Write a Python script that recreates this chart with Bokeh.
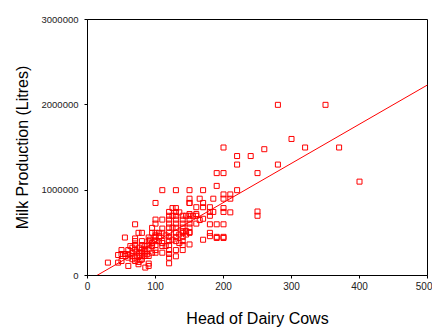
from bokeh.plotting import figure
from bokeh.models import FixedTicker, NumeralTickFormatter, ColumnDataSource
from bokeh.embed import file_html
from bokeh.resources import INLINE

# Head of dairy cows per farm
cows = [280, 350, 300, 320, 370, 200, 220, 240, 260, 220, 280, 400, 190, 200, 250,
        190, 220, 110, 130, 150, 150, 170, 200, 210, 200, 210, 185, 165, 150, 170,
        150, 100, 250, 250, 210, 170, 160, 125, 130, 130, 120, 130, 140, 145, 155,
        160, 170, 180, 180, 185, 180, 200, 200, 110, 100, 100, 120, 120, 120, 130,
        130, 140, 140, 150, 150, 150, 150, 140, 160, 180, 190, 200, 70, 95, 110,
        75, 80, 95, 100, 105, 110, 120, 130, 140, 150, 180, 180, 190, 200, 190,
        200, 170, 150, 55, 70, 70, 70, 90, 90, 100, 100, 100, 110, 120, 120,
        120, 130, 130, 140, 140, 140, 140, 130, 120, 120, 120, 120, 130, 110, 80,
        80, 80, 80, 80, 63, 60, 50, 50, 45, 55, 60, 60, 45, 50, 30,
        70, 70, 75, 75, 85, 90, 90, 66, 66, 70, 76, 76, 85, 85, 90,
        95, 95, 100, 100, 85, 90, 80, 76, 66, 66, 56, 110, 115, 105, 125,
        135, 145, 125, 135, 160, 165, 95, 105, 115, 88, 72, 78, 92, 60, 110,
        125, 135, 145, 150, 130, 140, 150, 120, 100, 90, 85]

# Milk production (litres)
milk = [2000000, 2000000, 1600000, 1500000, 1500000, 1500000, 1400000, 1400000, 1480000, 1300000,
        1300000, 1100000, 1200000, 1200000, 1200000, 1050000, 1000000, 1000000, 1000000, 1000000,
        900000, 1000000, 950000, 950000, 900000, 900000, 900000, 900000, 850000, 850000,
        850000, 850000, 750000, 700000, 740000, 800000, 800000, 790000, 790000, 745000,
        745000, 700000, 700000, 700000, 700000, 700000, 665000, 800000, 745000, 745000,
        700000, 790000, 745000, 655000, 655000, 608000, 655000, 608000, 562000, 655000,
        608000, 655000, 608000, 655000, 608000, 562000, 508000, 562000, 608000, 600000,
        600000, 600000, 600000, 558000, 550000, 500000, 500000, 500000, 500000, 500000,
        500000, 500000, 500000, 500000, 500000, 500000, 461000, 453000, 453000, 440000,
        440000, 419000, 364000, 445000, 434000, 403000, 357000, 445000, 403000, 453000,
        403000, 357000, 403000, 453000, 403000, 357000, 453000, 403000, 453000, 403000,
        357000, 298000, 298000, 298000, 252000, 209000, 143000, 225000, 267000, 403000,
        357000, 306000, 267000, 229000, 345000, 298000, 298000, 252000, 240000, 252000,
        209000, 112000, 151000, 170000, 151000, 209000, 170000, 132000, 159000, 93000,
        140000, 112000, 326000, 267000, 306000, 326000, 267000, 345000, 306000, 306000,
        345000, 267000, 267000, 298000, 229000, 229000, 190000, 229000, 229000, 190000,
        229000, 345000, 345000, 403000, 560000, 480000, 520000, 700000, 740000, 720000,
        650000, 380000, 460000, 470000, 250000, 280000, 180000, 420000, 250000, 380000,
        420000, 380000, 480000, 700000, 560000, 520000, 720000, 700000, 470000, 360000,
        270000]

# Fitted regression line end points
fit_x = [13.7, 500]
fit_y = [0, 2233000]

x_ticks = [0, 100, 200, 300, 400, 500]
y_ticks = [0, 1000000, 2000000, 3000000]

FONT = "Liberation Sans"

p = figure(width=432, height=329, output_backend="svg", toolbar_location=None,
           x_range=(0, 500), y_range=(0, 3000000),
           min_border_left=87, min_border_right=5, min_border_top=19, min_border_bottom=54)
p.background_fill_color = "white"
p.border_fill_color = "white"
p.outline_line_color = "black"
p.outline_line_width = 1
p.xgrid.grid_line_color = None
p.ygrid.grid_line_color = None

src = ColumnDataSource(dict(x=cows[:len(milk)], y=milk[:len(cows)]))
p.scatter("x", "y", source=src, marker="square", size=5, fill_color=None,
          line_color="#ff0000", line_width=1)
p.line(fit_x, fit_y, line_color="#ff0000", line_width=1)

for ax in (p.xaxis[0], p.yaxis[0]):
    ax.axis_line_color = "black"
    ax.major_tick_line_color = "black"
    ax.major_tick_out = 3
    ax.major_tick_in = 0
    ax.minor_tick_line_color = None
    ax.major_label_text_font = FONT
    ax.major_label_text_color = "#222222"
    ax.axis_label_text_font = FONT
    ax.axis_label_text_font_size = "16px"
    ax.axis_label_text_font_style = "normal"
    ax.axis_label_text_color = "black"

p.xaxis.major_label_text_font_size = "10px"
p.yaxis.major_label_text_font_size = "9.5px"
p.xaxis.ticker = FixedTicker(ticks=x_ticks)
p.yaxis.ticker = FixedTicker(ticks=y_ticks)
p.yaxis.formatter = NumeralTickFormatter(format="0")
p.xaxis.axis_label = "Head of Dairy Cows"
p.yaxis.axis_label = "Milk Production (Litres)"
p.xaxis.major_label_standoff = 3
p.yaxis.major_label_standoff = 6
p.xaxis.axis_label_standoff = 17
p.yaxis.axis_label_standoff = 8

open("out.html", "w").write(file_html(p, INLINE))
